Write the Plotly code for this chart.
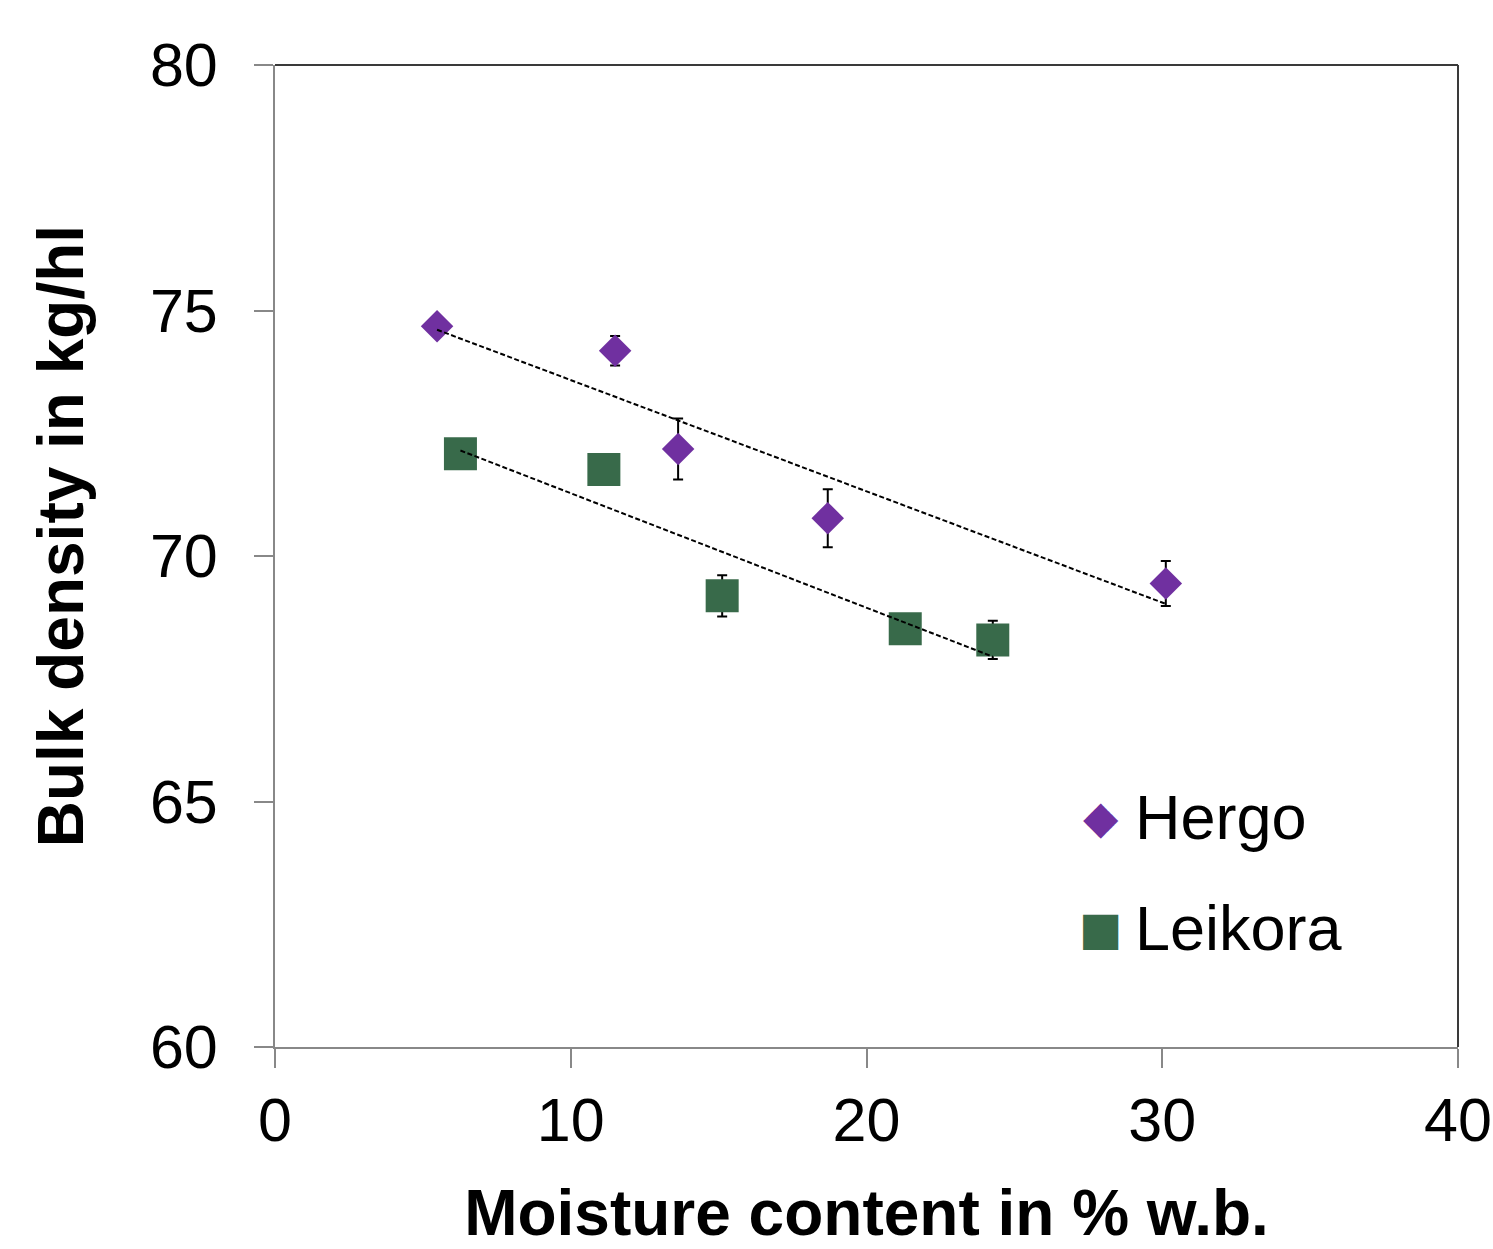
import numpy as np
import plotly.graph_objects as go

# Data
hergo_x = [5.48, 11.5, 13.63, 18.69, 30.12]
hergo_y = [74.68, 74.18, 72.18, 70.77, 69.44]
hergo_err = [0.0, 0.30, 0.62, 0.59, 0.46]

leikora_x = [6.27, 11.12, 15.12, 21.31, 24.27]
leikora_y = [72.08, 71.76, 69.19, 68.52, 68.29]
leikora_err = [0.0, 0.0, 0.42, 0.0, 0.39]

x_ticks = [0, 10, 20, 30, 40]
y_ticks = [60, 65, 70, 75, 80]

series_names = ["Hergo", "Leikora"]
x_title = "Moisture content in % w.b."
y_title = "Bulk density in kg/hl"

PURPLE = "#7030A0"
GREEN = "#386A4A"
FONT = "Liberation Sans, Arial, sans-serif"

fig = go.Figure()

fig.add_trace(go.Scatter(
    x=hergo_x, y=hergo_y, mode="markers", name=series_names[0], showlegend=False,
    marker=dict(symbol="diamond", size=25, color=PURPLE, line=dict(width=0)),
    error_y=dict(type="data", array=hergo_err, visible=True, color="black", thickness=2, width=5),
))
fig.add_trace(go.Scatter(
    x=leikora_x, y=leikora_y, mode="markers", name=series_names[1], showlegend=False,
    marker=dict(symbol="square", size=33, color=GREEN, line=dict(width=0)),
    error_y=dict(type="data", array=leikora_err, visible=True, color="black", thickness=2, width=5),
))

# Linear trendlines (least squares fit, as in the original spreadsheet chart)
for xs, ys in [(hergo_x, hergo_y), (leikora_x, leikora_y)]:
    m, b = np.polyfit(xs, ys, 1)
    xe = [min(xs), max(xs)]
    fig.add_trace(go.Scatter(
        x=xe, y=[m * v + b for v in xe], mode="lines", showlegend=False,
        line=dict(color="black", width=2, dash="5px,2.5px"), hoverinfo="skip",
    ))

# Legend drawn as text annotations (large legend keys as in the reference)
legend_items = [("◆", PURPLE, series_names[0], 0.234), ("■", GREEN, series_names[1], 0.121)]
annotations = []
for sym, col, name, yy in legend_items:
    annotations.append(dict(
        xref="paper", yref="paper", x=0.698, y=yy, xanchor="center", yanchor="middle",
        text=sym, showarrow=False, font=dict(family="DejaVu Sans", size=46, color=col),
    ))
    annotations.append(dict(
        xref="paper", yref="paper", x=0.725, y=yy, xanchor="left", yanchor="middle",
        text=name, showarrow=False, font=dict(family=FONT, size=63, color="black"),
    ))

# Y-axis title (placed as in the reference, slightly above the plot centre)
annotations.append(dict(
    xref="paper", yref="paper", x=-0.181, y=0.52, xanchor="center", yanchor="middle",
    text="<b>" + y_title + "</b>", textangle=-90, showarrow=False,
    font=dict(family=FONT, size=64, color="black"),
))

fig.update_layout(
    width=1493, height=1249,
    margin=dict(l=275, r=35, t=65, b=202, autoexpand=False),
    paper_bgcolor="white", plot_bgcolor="white",
    font=dict(family=FONT, size=60, color="black"),
    showlegend=False,
    annotations=annotations,
    xaxis=dict(
        range=[0, 40], tickvals=x_ticks, ticks="outside", ticklen=19, tickwidth=2,
        tickcolor="#888888", showline=True, linecolor="#888888", linewidth=2,
        showgrid=False, zeroline=False, tickfont=dict(size=61, family=FONT),
        ticklabelstandoff=0, automargin=False,
        title=dict(text="<b>" + x_title + "</b>", font=dict(size=64, family=FONT), standoff=38),
    ),
    yaxis=dict(
        range=[60, 80], tickvals=y_ticks, ticks="outside", ticklen=19, tickwidth=2,
        tickcolor="#888888", showline=True, linecolor="#888888", linewidth=2,
        showgrid=False, zeroline=False, tickfont=dict(size=61, family=FONT),
        ticklabelstandoff=24, automargin=False,
    ),
    shapes=[
        dict(type="line", xref="paper", yref="paper", x0=0, x1=1, y0=1, y1=1,
             line=dict(color="#3a3a3a", width=2)),
        dict(type="line", xref="paper", yref="paper", x0=1, x1=1, y0=0, y1=1,
             line=dict(color="#3a3a3a", width=2)),
    ],
)

fig.write_html("out.html")
